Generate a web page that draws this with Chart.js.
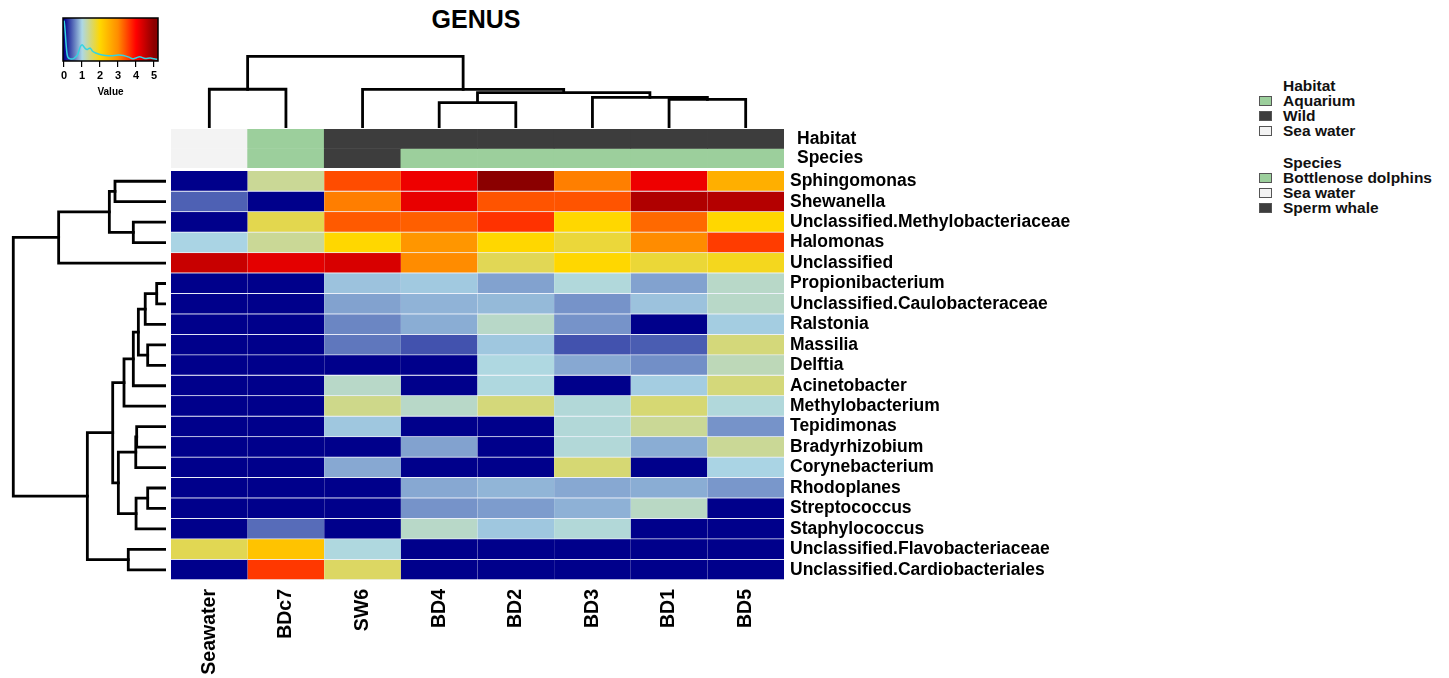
<!DOCTYPE html>
<html><head><meta charset="utf-8">
<script src="https://cdn.jsdelivr.net/npm/chart.js@4.4.1/dist/chart.umd.min.js"></script>
<style>
html,body{margin:0;padding:0;background:#fff;overflow:hidden;width:1449px;height:678px;}
canvas{position:absolute;display:block;}
#title{position:absolute;left:376px;width:200px;top:5px;line-height:30px;text-align:center;font:bold 25px "Liberation Sans",Arial,sans-serif;color:#000;}
.lg{position:absolute;left:1283px;font:bold 15.5px "Liberation Sans",Arial,sans-serif;line-height:16px;color:#111;white-space:nowrap;}
.sw{position:absolute;left:1259px;width:11px;height:8px;border:1px solid #555;}
</style></head>
<body>
<div id="title">GENUS</div>
<canvas id="key" width="125" height="90" style="left:50px;top:10px"></canvas>
<canvas id="coldendro" width="613" height="82" style="left:171px;top:46px"></canvas>
<canvas id="annot" width="763" height="39" style="left:171px;top:129px"></canvas>
<canvas id="rowdendro" width="166" height="409" style="left:0px;top:171px"></canvas>
<canvas id="heat" width="913" height="507" style="left:171px;top:171px"></canvas>
<div id="legend"></div>
<script>
// ---------- data ----------
const samples = ['Seawater','BDc7','SW6','BD4','BD2','BD3','BD1','BD5'];
const genera = ['Sphingomonas','Shewanella','Unclassified.Methylobacteriaceae','Halomonas','Unclassified',
  'Propionibacterium','Unclassified.Caulobacteraceae','Ralstonia','Massilia','Delftia','Acinetobacter',
  'Methylobacterium','Tepidimonas','Bradyrhizobium','Corynebacterium','Rhodoplanes','Streptococcus',
  'Staphylococcus','Unclassified.Flavobacteriaceae','Unclassified.Cardiobacteriales'];
const sphingomonas      = [0, 1.35, 3.46, 4.15, 5.0, 3.09, 4.15, 2.53];
const shewanella        = [0.45, 0, 3.1, 4.2, 3.4, 3.4, 4.69, 4.65];
const methylobacteriaceae = [0, 1.66, 3.36, 3.32, 3.64, 2.0, 3.25, 2.0];
const halomonas         = [0.98, 1.35, 2.0, 2.87, 2.0, 1.75, 3.0, 3.57];
const unclassified      = [4.47, 4.23, 4.34, 3.0, 1.63, 2.0, 1.76, 1.87];
const propionibacterium = [0, 0, 0.9, 0.93, 0.75, 1.05, 0.75, 1.13];
const caulobacteraceae  = [0, 0, 0.75, 0.83, 0.86, 0.68, 0.9, 1.13];
const ralstonia         = [0, 0, 0.62, 0.8, 1.13, 0.68, 0, 0.95];
const massilia          = [0, 0, 0.55, 0.38, 0.92, 0.38, 0.43, 1.47];
const delftia           = [0, 0, 0, 0, 1.02, 0.78, 0.66, 1.2];
const acinetobacter     = [0, 0, 1.13, 0, 1.03, 0, 0.95, 1.47];
const methylobacterium  = [0, 0, 1.4, 1.13, 1.47, 1.06, 1.5, 1.05];
const tepidimonas       = [0, 0, 0.92, 0, 0, 1.06, 1.35, 0.68];
const bradyrhizobium    = [0, 0, 0, 0.75, 0, 1.06, 0.8, 1.35];
const corynebacterium   = [0, 0, 0.78, 0, 0, 1.5, 0, 0.98];
const rhodoplanes       = [0, 0, 0, 0.78, 0.84, 0.78, 0.8, 0.7];
const streptococcus     = [0, 0, 0, 0.68, 0.72, 0.82, 1.15, 0];
const staphylococcus    = [0, 0.5, 0, 1.13, 0.92, 1.06, 0, 0];
const flavobacteriaceae = [1.64, 2.27, 1.03, 0, 0, 0, 0, 0];
const cardiobacteriales = [0, 3.6, 1.57, 0, 0, 0, 0, 0];
const rows = [sphingomonas, shewanella, methylobacteriaceae, halomonas, unclassified,
  propionibacterium, caulobacteraceae, ralstonia, massilia, delftia, acinetobacter,
  methylobacterium, tepidimonas, bradyrhizobium, corynebacterium, rhodoplanes, streptococcus,
  staphylococcus, flavobacteriaceae, cardiobacteriales];

const habitat = ['Sea water','Aquarium','Wild','Wild','Wild','Wild','Wild','Wild'];
const species = ['Sea water','Bottlenose dolphins','Sperm whale','Bottlenose dolphins','Bottlenose dolphins','Bottlenose dolphins','Bottlenose dolphins','Bottlenose dolphins'];
const habitatLevels = ['Aquarium','Wild','Sea water'];
const speciesLevels = ['Bottlenose dolphins','Sea water','Sperm whale'];

// hclust-style merges (negative = leaf index+1, positive = earlier merge number)
const rowMergeA  = [-6, -9, -16, 1, 4, -13, 3, 6, 5, -3, -19, 9, 8, -1, 12, 14, 15, 16, 18];
const rowMergeB  = [-7, -10, -17, -8, 2, -14, -18, -15, -11, -4, -20, -12, 7, -2, 13, 10, 11, -5, 17];
const rowHeights = [0.61, 1.20, 1.20, 1.36, 1.81, 1.92, 1.96, 1.98, 2.14, 2.14, 2.47, 2.75, 3.12, 3.34, 3.49, 3.71, 5.15, 7.03, 10];
const colMergeA  = [-4, -7, -6, 1, -1, -3, 5];
const colMergeB  = [-5, -8, 2, 3, -2, 4, 6];
const colHeights = [3.53, 3.99, 4.27, 4.95, 5.41, 5.38, 10];

// colour key density trace
const keyValues  = [0, 0.05, 0.12, 0.2, 0.35, 0.55, 0.75, 0.9, 1.0, 1.1, 1.2, 1.3, 1.45, 1.6, 1.8, 2.0, 2.3, 2.6, 3.0, 3.3, 3.6, 3.8, 4.0, 4.2, 4.5, 4.8, 5.0, 5.2];
const keyDensity = [0.94, 0.75, 0.35, 0.1, 0.05, 0.06, 0.15, 0.33, 0.38, 0.33, 0.28, 0.27, 0.3, 0.22, 0.18, 0.15, 0.13, 0.12, 0.14, 0.13, 0.09, 0.05, 0.07, 0.1, 0.06, 0.07, 0.05, 0.04];

// ---------- styles ----------
const FONT = '"Liberation Sans", Arial, Helvetica, sans-serif';
Chart.defaults.font.family = FONT;
const stops = [[0,[0,0,139]],[1,[173,216,230]],[2,[255,215,0]],[3,[255,140,0]],[4,[255,0,0]],[5,[139,0,0]]];
function rgb(c){return `rgb(${c[0]},${c[1]},${c[2]})`;}
function colorFor(v){
  if (v <= stops[0][0]) return rgb(stops[0][1]);
  for (let i=1;i<stops.length;i++){
    if (v <= stops[i][0]){
      const [v0,c0]=stops[i-1],[v1,c1]=stops[i];
      const t=(v-v0)/(v1-v0);
      return rgb(c0.map((c,k)=>Math.round(c+(c1[k]-c)*t)));
    }
  }
  return rgb(stops[stops.length-1][1]);
}
const habitatColors = {'Aquarium':'#9ccf9c','Wild':'#3d3d3d','Sea water':'#f3f3f3'};
const speciesColors = {'Bottlenose dolphins':'#9ccf9c','Sperm whale':'#3d3d3d','Sea water':'#f3f3f3'};

const noPlugins = {legend:{display:false}, tooltip:{enabled:false}};
function zeroPad(s){ s.paddingTop=0; s.paddingBottom=0; s.paddingLeft=0; s.paddingRight=0; }

// ---------- heatmap ----------
new Chart(document.getElementById('heat'), {
  type:'bar',
  data:{labels:samples, datasets: rows.map((vals,i)=>({
    label:genera[i], data:samples.map(()=>1),
    backgroundColor: vals.map(colorFor),
    borderColor:'rgba(235,240,250,0.85)', borderWidth:{top:0,left:0,right:0,bottom:1}, borderSkipped:false,
    barPercentage:1, categoryPercentage:1
  }))},
  options:{responsive:false, animation:false, layout:{padding:0}, plugins:noPlugins,
    scales:{
      x:{stacked:true, grid:{display:false, drawTicks:false}, border:{display:false},
        ticks:{autoSkip:false, minRotation:90, maxRotation:90, padding:9, color:'#000', font:{size:19.5, weight:'bold'}},
        afterFit(s){s.height=98; zeroPad(s);}},
      y:{stacked:true, position:'right', min:0, max:20, reverse:true,
        grid:{display:false, drawTicks:false}, border:{display:false},
        afterBuildTicks(s){s.ticks = genera.map((g,i)=>({value:i+0.5}));},
        ticks:{autoSkip:false, padding:6, color:'#000', font:{size:17.5, weight:'bold'}, callback:(v,i)=>genera[i]},
        afterFit(s){s.width=300; zeroPad(s);}}
    }}
});

// ---------- annotation bars ----------
new Chart(document.getElementById('annot'), {
  type:'bar',
  data:{labels:samples, datasets:[
    {label:'Habitat', data:samples.map(()=>1), backgroundColor:habitat.map(h=>habitatColors[h]), borderWidth:0, barPercentage:1, categoryPercentage:1},
    {label:'Species', data:samples.map(()=>1), backgroundColor:species.map(s=>speciesColors[s]), borderWidth:0, barPercentage:1, categoryPercentage:1}
  ]},
  options:{responsive:false, animation:false, layout:{padding:0}, plugins:noPlugins,
    scales:{
      x:{stacked:true, display:false},
      y:{stacked:true, position:'right', min:0, max:2, reverse:true,
        grid:{display:false, drawTicks:false}, border:{display:false},
        afterBuildTicks(s){s.ticks=[{value:0.5},{value:1.5}];},
        ticks:{autoSkip:false, padding:13, color:'#000', font:{size:17.5, weight:'bold'}, callback:(v,i)=>['Habitat','Species'][i]},
        afterFit(s){s.width=150; zeroPad(s);}}
    }}
});

// ---------- dendrograms ----------
function dendroSets(A, B, H, horizontal){
  const pos=[]; const sets=[];
  const gp=k=>k<0?(-k-1)+0.5:pos[k-1];
  const gh=k=>k<0?0:H[k-1];
  for(let i=0;i<H.length;i++){
    const pa=gp(A[i]), pb=gp(B[i]), ha=gh(A[i]), hb=gh(B[i]), hm=H[i];
    pos[i]=(pa+pb)/2;
    const pts=[[pa,ha],[pa,hm],[pb,hm],[pb,hb]];
    sets.push({data:pts.map(([p,h])=>horizontal?{x:h,y:p}:{x:p,y:h}),
      showLine:true, borderColor:'#000', borderWidth:2.8, pointRadius:0, fill:false,
      borderCapStyle:'square', borderJoinStyle:'miter', clip:false});
  }
  return sets;
}
new Chart(document.getElementById('coldendro'), {
  type:'scatter',
  data:{datasets:dendroSets(colMergeA, colMergeB, colHeights, false)},
  options:{responsive:false, animation:false, layout:{padding:0}, plugins:noPlugins,
    scales:{x:{type:'linear', min:0, max:8, display:false}, y:{type:'linear', min:0, max:11.45, display:false}}}
});
new Chart(document.getElementById('rowdendro'), {
  type:'scatter',
  data:{datasets:dendroSets(rowMergeA, rowMergeB, rowHeights, true)},
  options:{responsive:false, animation:false, layout:{padding:0}, plugins:noPlugins,
    scales:{x:{type:'linear', min:0, max:10.87, reverse:true, display:false}, y:{type:'linear', min:0, max:20, reverse:true, display:false}}}
});

// ---------- colour key ----------
const keyPlugin = {
  id:'keyGradient',
  beforeDatasetsDraw(chart){
    const {ctx, chartArea:a, scales:{x}} = chart;
    const g = ctx.createLinearGradient(a.left,0,a.right,0);
    stops.forEach(([v,c])=>{
      const f=(x.getPixelForValue(v)-a.left)/(a.right-a.left);
      g.addColorStop(Math.min(1,Math.max(0,f)), rgb(c));
    });
    ctx.save(); ctx.fillStyle=g; ctx.fillRect(a.left,a.top,a.right-a.left,a.bottom-a.top); ctx.restore();
  },
  afterDatasetsDraw(chart){
    const {ctx, chartArea:a} = chart;
    ctx.save(); ctx.strokeStyle='#000'; ctx.lineWidth=1.5;
    ctx.strokeRect(a.left,a.top,a.right-a.left,a.bottom-a.top); ctx.restore();
  }
};
new Chart(document.getElementById('key'), {
  type:'line',
  data:{datasets:[{data:keyValues.map((v,i)=>({x:v,y:keyDensity[i]})), borderColor:'#35d3e0', borderWidth:1.5, pointRadius:0, tension:0.3, fill:false}]},
  options:{responsive:false, animation:false, layout:{padding:{left:13,right:17,top:8,bottom:0}}, plugins:noPlugins,
    scales:{
      x:{type:'linear', min:-0.06, max:5.22,
        afterBuildTicks(s){s.ticks=[0,1,2,3,4,5].map(v=>({value:v}));},
        grid:{drawOnChartArea:false, drawTicks:true, tickLength:6, color:'#000', lineWidth:1.2}, border:{display:false},
        ticks:{padding:2, color:'#000', font:{size:11, weight:'bold'}},
        title:{display:true, text:'Value', color:'#000', font:{size:10, weight:'bold'}, padding:{top:0,bottom:2}},
        afterFit(s){s.height=39;}},
      y:{type:'linear', min:0, max:1, display:false}
    }},
  plugins:[keyPlugin]
});

// ---------- legend ----------
(function(){
  const L=document.getElementById('legend');
  function add(text, cy, color){
    const d=document.createElement('div'); d.className='lg'; d.style.top=(cy-8)+'px'; d.textContent=text; L.appendChild(d);
    if(color){const s=document.createElement('div'); s.className='sw'; s.style.top=(cy-5)+'px'; s.style.background=color; L.appendChild(s);}
  }
  add('Habitat', 86);
  habitatLevels.forEach((h,i)=>add(h, 101+15*i, habitatColors[h]));
  add('Species', 163);
  speciesLevels.forEach((s,i)=>add(s, 178+15*i, speciesColors[s]));
})();
</script>
</body></html>
